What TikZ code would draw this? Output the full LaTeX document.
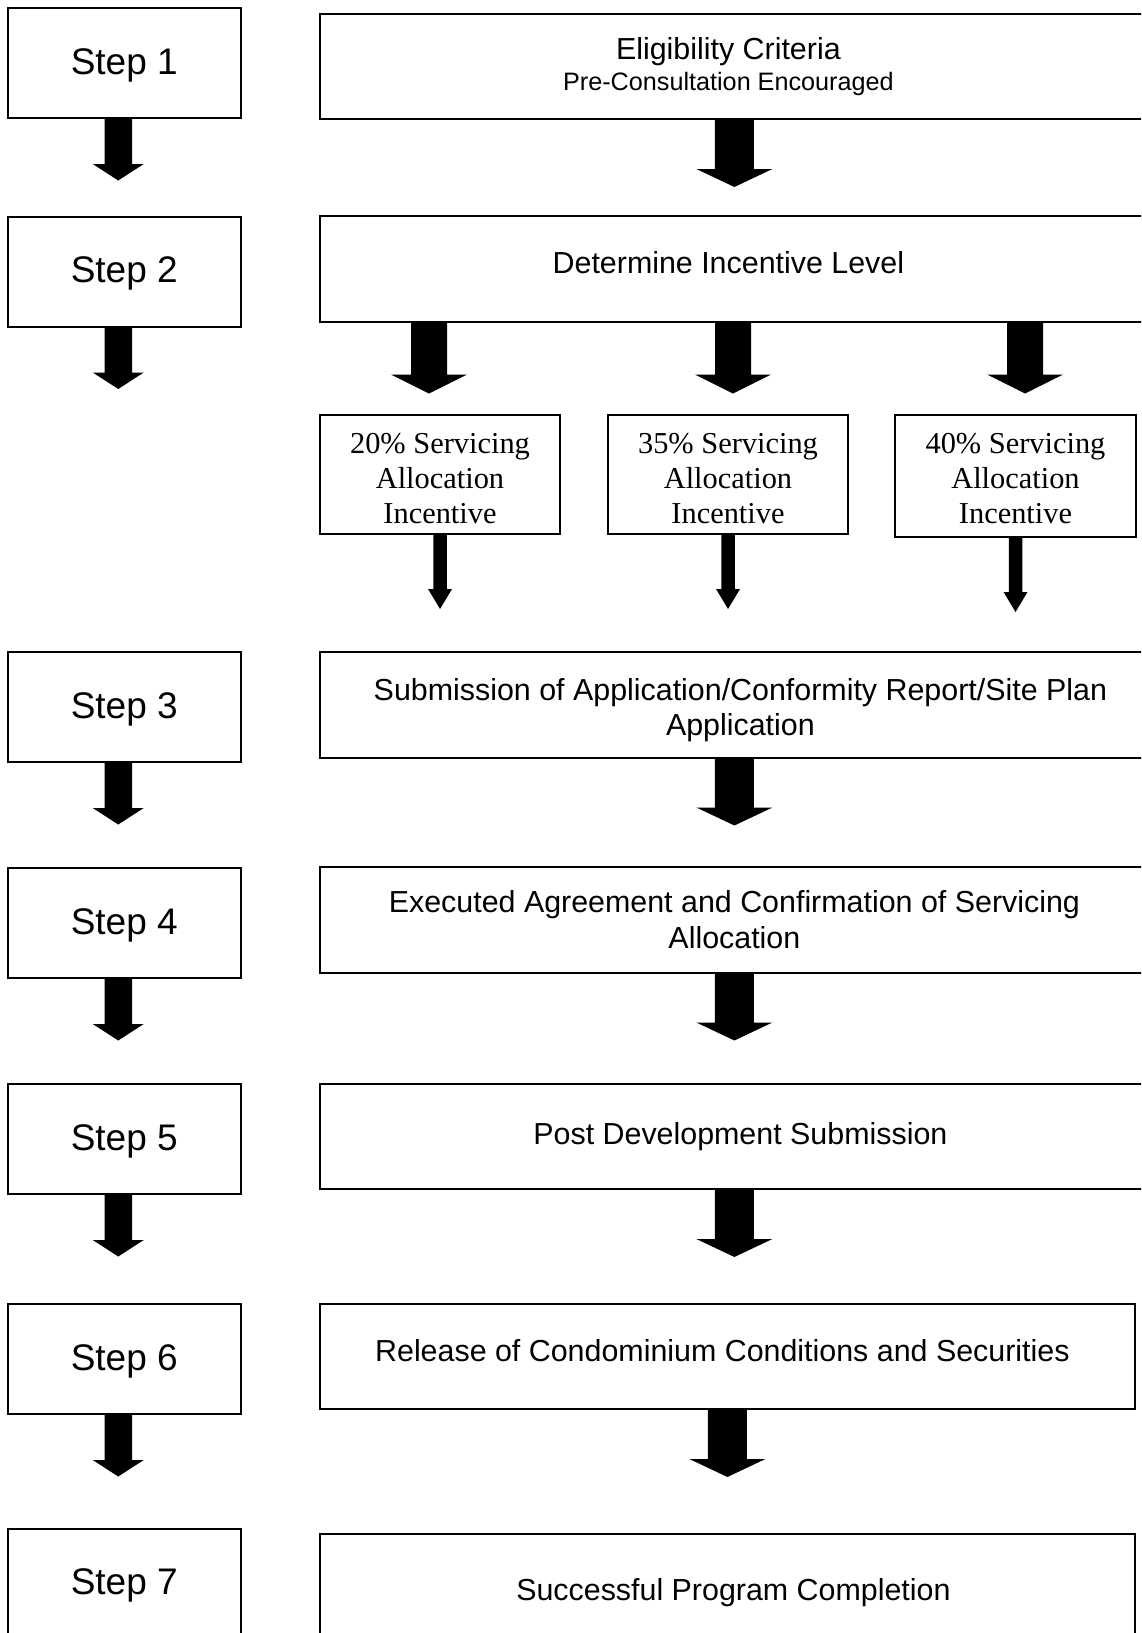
\documentclass[tikz,border=0pt]{standalone}
\usepackage{fontspec}
\setmainfont{Liberation Sans}
\newfontfamily\timesfont{Liberation Serif}
\usetikzlibrary{calc}
\newcommand\liftline[2]{\raisebox{#1}[\height][\depth]{#2}}
\tikzset{
  box/.style={draw, line width=1pt, inner sep=0pt, anchor=north west, align=center},
  stepbox/.style={box, minimum width=116.75pt, minimum height=55pt, font=\fontsize{18.5}{22}\selectfont},
  mainbox/.style={box, minimum height=52.75pt, font=\fontsize{15.2}{17.7}\selectfont},
  widebox/.style={mainbox, minimum width=414.6pt},
  endbox/.style={mainbox, minimum width=407.6pt},
  incbox/.style={box, minimum width=120pt, minimum height=59.5pt, font=\timesfont\fontsize{15.2}{17.4}\selectfont},
  pics/blockarrow/.style n args={4}{code={
    \fill[black] (-#1/2,0) -- (#1/2,0) -- (#1/2,#3-#4) -- (#2/2,#3-#4) -- (0,#3)
      -- (-#2/2,#3-#4) -- (-#1/2,#3-#4) -- cycle;}},
}
\begin{document}
\begin{tikzpicture}[x=0.5pt, y=-0.5pt]
\useasboundingbox (0,0) rectangle (1141,1633);
\clip (0,0) rectangle (1141,1633);
\fill[white] (0,0) rectangle (1141,1633);

% step boxes
\node[stepbox] (s1) at (6.5,7) {\liftline{-1pt}{Step 1}};
\node[stepbox] (s2) at (6.5,215.5) {\liftline{-1pt}{Step 2}};
\node[stepbox] (s3) at (6.5,651) {\liftline{-1pt}{Step 3}};
\node[stepbox] (s4) at (6.5,867) {\liftline{-1pt}{Step 4}};
\node[stepbox] (s5) at (6.5,1083) {\liftline{-1pt}{Step 5}};
\node[stepbox] (s6) at (6.5,1303) {\liftline{-1pt}{Step 6}};
\node[stepbox] (s7) at (6.5,1527.5) {\liftline{-1pt}{Step 7}};

% main boxes
\node[widebox, font=\fontsize{15.2}{17}\selectfont] (r1) at (318.8,12.5)
  {\liftline{-1pt}{Eligibility Criteria\hspace*{6pt}}\\{\fontsize{12.6}{15}\selectfont \liftline{0.5pt}{Pre-Consultation Encouraged\hspace*{6pt}}}};
\node[widebox] (r2) at (318.8,215) {\liftline{3pt}{Determine Incentive Level\hspace*{6pt}}};
\node[widebox] (r3) at (318.8,651) {\liftline{-2.6pt}{\hspace*{6pt}Submission of Application/Conformity Report/Site Plan}\\\liftline{-2.6pt}{\hspace*{6pt}Application}};
\node[widebox] (r4) at (318.8,866) {Executed Agreement and Confirmation of Servicing\\Allocation};
\node[widebox] (r5) at (318.8,1082.5) {\hspace*{6pt}Post Development Submission};
\node[endbox] (r6) at (318.8,1302.5) {\liftline{3pt}{Release of Condominium Conditions and Securities\hspace*{5pt}}};
\node[endbox] (r7) at (318.8,1533) {\liftline{-3.1pt}{\hspace*{6pt}Successful Program Completion}};

% incentive boxes
\node[incbox] (i1) at (319,414) {\liftline{-2.1pt}{20\% Servicing}\\\liftline{-2.1pt}{Allocation}\\\liftline{-2.1pt}{Incentive}};
\node[incbox] (i2) at (607,414) {\liftline{-2.1pt}{35\% Servicing}\\\liftline{-2.1pt}{Allocation}\\\liftline{-2.1pt}{Incentive}};
\node[incbox, minimum height=61pt, minimum width=120.5pt] (i3) at (894,414) {\liftline{-1.4pt}{40\% Servicing}\\\liftline{-1.4pt}{Allocation}\\\liftline{-1.4pt}{Incentive}};

% left arrows
\foreach \n in {s1,s2,s3,s4,s5,s6}
  \pic at ($(\n.south)+(-6,0)$) {blockarrow={27.5}{51}{61.5}{16.5}};

% right arrows
\foreach \n in {r1,r3,r4,r5,r6}
  \pic at (\n.south) {blockarrow={39}{76}{67}{18}};

% step 2 split arrows
\pic at ($(r2.south west)+(110.2,0)$) {blockarrow={36}{76}{71}{19}};
\pic at ($(r2.south west)+(414.2,0)$) {blockarrow={36}{76}{71}{19}};
\pic at ($(r2.south west)+(706.2,0)$) {blockarrow={36}{76}{71}{19}};

% incentive arrows
\foreach \n in {i1,i2,i3}
  \pic at (\n.south) {blockarrow={13.5}{24}{74}{20}};
\end{tikzpicture}
\end{document}
